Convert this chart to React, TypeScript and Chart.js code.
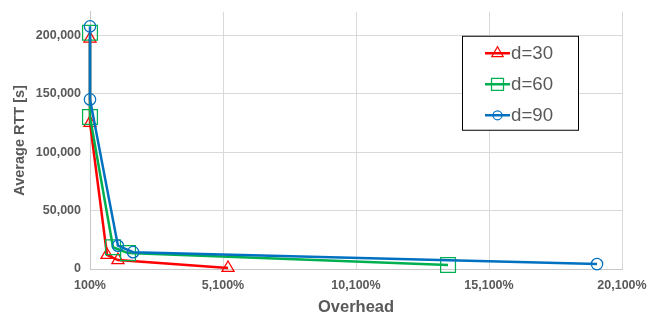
import React, { useEffect, useRef } from "react";
import { Chart, registerables } from "chart.js";

Chart.register(...registerables);

// ---- data ----
const seriesLabels = ["d=30", "d=60", "d=90"];
const seriesColors = ["#FF0000", "#00B050", "#0070C0"];
const seriesMarkers = ["triangle", "rect", "circle"];

const d30Overhead = [100, 100, 740, 1150, 5290];
const d30Rtt = [197000, 125000, 12000, 7600, 900];

const d60Overhead = [100, 100, 965, 1530, 13560];
const d60Rtt = [202000, 130000, 18600, 13600, 3400];

const d90Overhead = [100, 100, 1150, 1720, 19160];
const d90Rtt = [207500, 145000, 19900, 14400, 4200];

const overheadTicks = [100, 5100, 10100, 15100, 20100];
const rttTicks = [0, 50000, 100000, 150000, 200000];

const xTitle = "Overhead";
const yTitle = "Average RTT [s]";

const FONT = '"Liberation Sans", Arial, sans-serif';
const TEXT = "#595959";

function toPoints(xs: number[], ys: number[]) {
  return xs.map((x, i) => ({ x, y: ys[i] }));
}

function drawMarker(ctx: CanvasRenderingContext2D, style: string, cx: number, cy: number, r: number) {
  ctx.beginPath();
  if (style === "triangle") {
    ctx.moveTo(cx, cy - r);
    ctx.lineTo(cx + r * Math.sin((2 * Math.PI) / 3), cy + r / 2);
    ctx.lineTo(cx - r * Math.sin((2 * Math.PI) / 3), cy + r / 2);
    ctx.closePath();
  } else if (style === "rect") {
    ctx.rect(cx - r, cy - r, 2 * r, 2 * r);
  } else {
    ctx.arc(cx, cy, r, 0, Math.PI * 2);
  }
  ctx.stroke();
}

const boxLegend = {
  id: "boxLegend",
  afterDatasetsDraw(chart: any) {
    const { ctx, chartArea } = chart;
    const left = chartArea.right - 160;
    const top = chartArea.top + 24;
    const w = 116;
    const h = 94;
    ctx.save();
    ctx.fillStyle = "#ffffff";
    ctx.fillRect(left, top, w, h);
    ctx.strokeStyle = "#000000";
    ctx.lineWidth = 1;
    ctx.strokeRect(left + 0.5, top + 0.5, w, h);
    const sizes: Record<string, number> = { triangle: 6.5, rect: 6, circle: 4.5 };
    chart.data.datasets.forEach((ds: any, i: number) => {
      const cy = top + 17.5 + i * 31;
      const lx = left + 23;
      ctx.strokeStyle = ds.borderColor;
      ctx.lineWidth = 2.5;
      ctx.beginPath();
      ctx.moveTo(lx, cy);
      ctx.lineTo(lx + 25, cy);
      ctx.stroke();
      ctx.lineWidth = 1.25;
      drawMarker(ctx, ds.pointStyle, lx + 12.5, cy, sizes[ds.pointStyle]);
      ctx.fillStyle = TEXT;
      ctx.font = `18.67px ${FONT}`;
      ctx.textAlign = "left";
      ctx.textBaseline = "middle";
      ctx.fillText(ds.label, lx + 26, cy + 1);
    });
    ctx.restore();
  },
};

export default function App() {
  const ref = useRef<HTMLCanvasElement | null>(null);

  useEffect(() => {
    if (!ref.current) return;
    const xs = [d30Overhead, d60Overhead, d90Overhead];
    const ys = [d30Rtt, d60Rtt, d90Rtt];
    const radii = [7, 10.5, 5.7];
    const datasets = seriesLabels.map((label, i) => ({
      label,
      data: toPoints(xs[i], ys[i]),
      borderColor: seriesColors[i],
      backgroundColor: seriesColors[i],
      borderWidth: 2.5,
      pointStyle: seriesMarkers[i],
      pointRadius: radii[i],
      pointBorderWidth: 1.25,
      pointBackgroundColor: "rgba(0,0,0,0)",
      pointBorderColor: seriesColors[i],
      tension: 0,
      clip: false as any,
      order: 3 - i,
    }));

    const chart = new Chart(ref.current, {
      type: "line",
      data: { datasets },
      plugins: [boxLegend],
      options: {
        animation: false,
        responsive: false,
        devicePixelRatio: 1,
        layout: { padding: { top: 8, right: 34, left: 0, bottom: 0 } },
        plugins: { legend: { display: false }, tooltip: { enabled: false } },
        scales: {
          x: {
            type: "linear",
            min: overheadTicks[0],
            max: overheadTicks[overheadTicks.length - 1],
            afterBuildTicks: (s: any) => {
              s.ticks = overheadTicks.map((value) => ({ value }));
            },
            afterFit: (s: any) => {
              s.height = 49;
              s.paddingLeft = 0;
              s.paddingRight = 0;
            },
            ticks: {
              autoSkip: false,
              maxRotation: 0,
              padding: 9,
              color: TEXT,
              font: { family: FONT, size: 12.5, weight: "bold" },
              callback: (v: any) => Number(v).toLocaleString("en-US") + "%",
            },
            grid: { color: "#d9d9d9", drawTicks: false, lineWidth: 1 },
            border: { color: "#c8c8c8", width: 1 },
            title: {
              display: true,
              text: xTitle,
              color: TEXT,
              font: { family: FONT, size: 16.5, weight: "bold" },
              padding: { top: 0, bottom: 1 },
            },
          },
          y: {
            type: "linear",
            min: 0,
            max: 220000,
            afterBuildTicks: (s: any) => {
              s.ticks = rttTicks.map((value) => ({ value }));
            },
            afterFit: (s: any) => {
              s.width = 90;
              s.paddingTop = 0;
              s.paddingBottom = 0;
            },
            ticks: {
              padding: 9,
              color: TEXT,
              font: { family: FONT, size: 12.5, weight: "bold" },
              callback: (v: any) => Number(v).toLocaleString("en-US"),
            },
            grid: { color: "#d9d9d9", drawTicks: false, lineWidth: 1 },
            border: { color: "#c8c8c8", width: 1 },
            title: {
              display: true,
              text: yTitle,
              color: TEXT,
              font: { family: FONT, size: 14.5, weight: "bold" },
              padding: { top: 11, bottom: 0 },
            },
          },
        },
      } as any,
    });
    return () => chart.destroy();
  }, []);

  return (
    <div style={{ position: "fixed", left: 0, top: 0, width: 656, height: 318, background: "#fff" }}>
      <canvas ref={ref} width={656} height={318} style={{ display: "block", width: 656, height: 318 }} />
    </div>
  );
}
